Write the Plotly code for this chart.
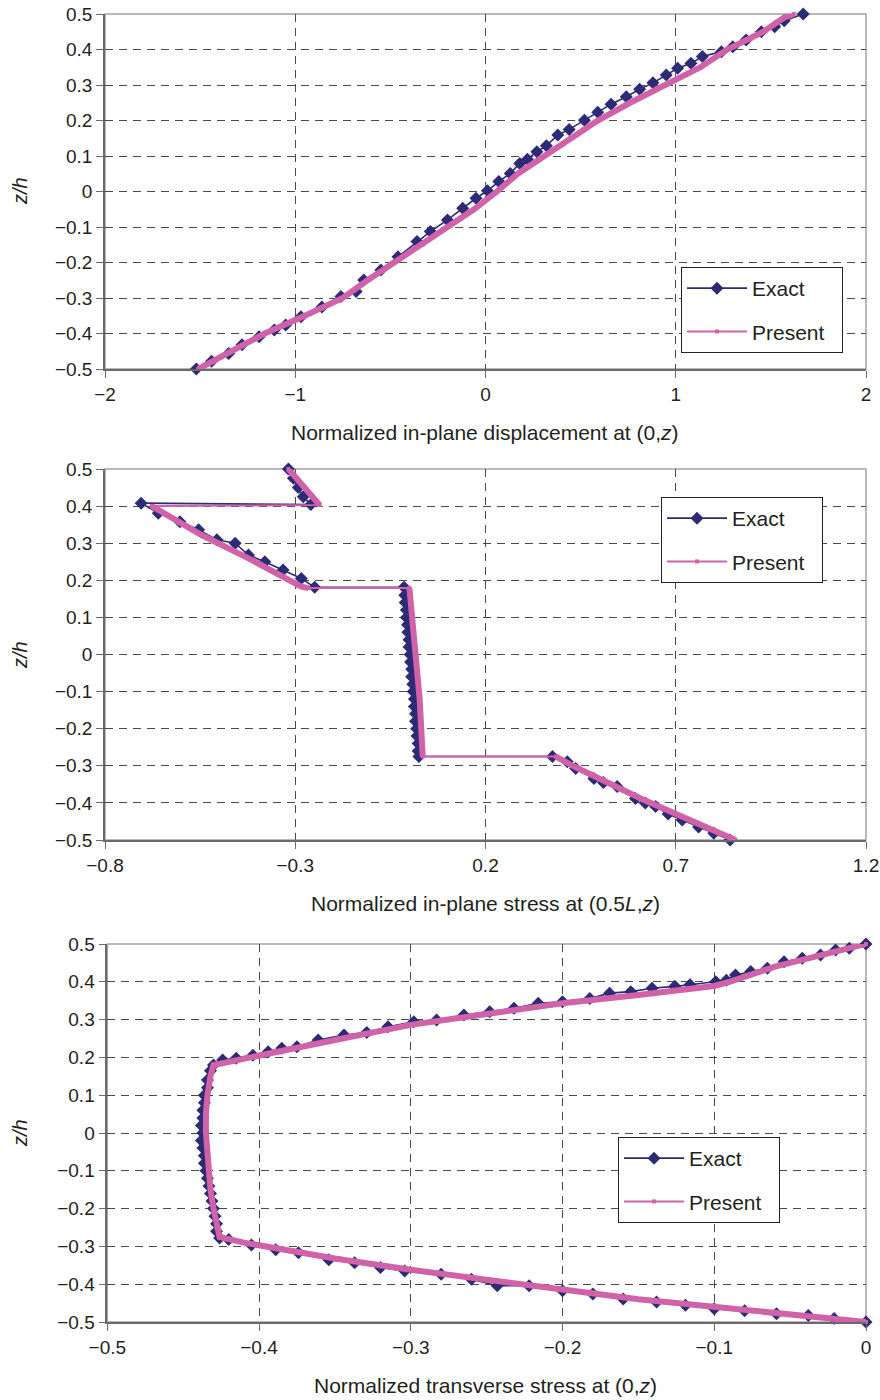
import plotly.graph_objects as go

# ---------------- data ----------------
# Top: normalized in-plane displacement at (0,z)
top_exact_z = [-0.5, -0.478, -0.456, -0.432, -0.409, -0.39, -0.376, -0.353, -0.325, -0.296,
               -0.282, -0.249, -0.221, -0.184, -0.141, -0.113, -0.08, -0.047, -0.019, 0.002,
               0.028, 0.051, 0.079, 0.091, 0.112, 0.129, 0.159, 0.175, 0.201, 0.223,
               0.246, 0.267, 0.288, 0.306, 0.328, 0.347, 0.361, 0.38, 0.394, 0.408,
               0.427, 0.45, 0.464, 0.481, 0.5]
top_exact_u = [-1.52, -1.44, -1.35, -1.28, -1.19, -1.11, -1.05, -0.97, -0.86, -0.76,
               -0.68, -0.64, -0.55, -0.46, -0.36, -0.29, -0.20, -0.12, -0.05, 0.01,
               0.07, 0.13, 0.18, 0.22, 0.27, 0.32, 0.38, 0.44, 0.52, 0.59,
               0.66, 0.74, 0.81, 0.88, 0.95, 1.01, 1.08, 1.14, 1.24, 1.30,
               1.37, 1.45, 1.52, 1.57, 1.67]
top_pres_z = [-0.5, -0.45, -0.4, -0.35, -0.3, -0.25, -0.2, -0.15, -0.1, -0.05, 0.0,
              0.05, 0.1, 0.15, 0.2, 0.25, 0.3, 0.35, 0.4, 0.45, 0.49, 0.5]
top_pres_u = [-1.51, -1.34, -1.16, -0.95, -0.75, -0.62, -0.48, -0.33, -0.20, -0.06, 0.06,
              0.17, 0.31, 0.45, 0.59, 0.76, 0.94, 1.13, 1.27, 1.46, 1.57, 1.62]

# Middle: normalized in-plane stress at (0.5L,z)
mid_exact_s = [-0.318, -0.305, -0.292, -0.279, -0.259,
               -0.705, -0.66, -0.603, -0.554, -0.506, -0.458, -0.423, -0.38, -0.332, -0.284, -0.249,
               -0.014, -0.012, -0.011, -0.008, -0.008, -0.005, -0.004, -0.001, -0.001, 0.002,
               0.003, 0.006, 0.006, 0.009, 0.010, 0.013, 0.013, 0.016, 0.016, 0.019,
               0.020, 0.023, 0.023, 0.025,
               0.376, 0.415, 0.437, 0.485, 0.51, 0.546, 0.594, 0.62, 0.647, 0.68, 0.717, 0.76, 0.8, 0.843]
mid_exact_z = [0.5, 0.475, 0.45, 0.425, 0.404,
               0.408, 0.381, 0.358, 0.336, 0.309, 0.3, 0.268, 0.25, 0.228, 0.205, 0.181,
               0.181, 0.16, 0.14, 0.12, 0.1, 0.08, 0.06, 0.04, 0.02, 0.0,
               -0.02, -0.04, -0.06, -0.08, -0.1, -0.12, -0.14, -0.16, -0.18, -0.2,
               -0.22, -0.24, -0.26, -0.275,
               -0.275, -0.289, -0.307, -0.334, -0.345, -0.356, -0.388, -0.40, -0.41, -0.43, -0.446, -0.465, -0.482, -0.5]
mid_pres_s = [-0.318, -0.236, -0.677, -0.546, -0.415, -0.284, -0.265, 0.000, 0.009, 0.018,
              0.027, 0.035, 0.385, 0.433, 0.608, 0.782, 0.857]
mid_pres_z = [0.5, 0.403, 0.400, 0.322, 0.255, 0.183, 0.179, 0.179, 0.08, -0.02,
              -0.12, -0.275, -0.275, -0.302, -0.388, -0.468, -0.5]

# Bottom: normalized transverse stress at (0,z)
bot_exact_t = [0.0, -0.011, -0.02, -0.03, -0.042, -0.054, -0.065, -0.076, -0.086, -0.092,
               -0.099, -0.116, -0.126, -0.141, -0.155, -0.169, -0.182, -0.2, -0.216, -0.232,
               -0.248, -0.265, -0.283, -0.298, -0.315, -0.329, -0.344, -0.361, -0.375, -0.385,
               -0.394, -0.404, -0.415, -0.424, -0.430, -0.432, -0.434, -0.434, -0.436, -0.436,
               -0.437, -0.437, -0.438, -0.437, -0.438, -0.437, -0.436, -0.436, -0.435, -0.434,
               -0.433, -0.432, -0.431, -0.430, -0.429, -0.428, -0.428, -0.426, -0.42, -0.405,
               -0.389, -0.374, -0.354, -0.337, -0.32, -0.304, -0.28, -0.26, -0.243, -0.222,
               -0.2, -0.18, -0.16, -0.138, -0.119, -0.1, -0.08, -0.059, -0.038, -0.021, 0.0]
bot_exact_z = [0.5, 0.489, 0.484, 0.471, 0.462, 0.453, 0.436, 0.427, 0.418, 0.404,
               0.400, 0.392, 0.388, 0.383, 0.374, 0.370, 0.356, 0.347, 0.343, 0.330,
               0.321, 0.312, 0.299, 0.294, 0.281, 0.266, 0.259, 0.246, 0.228, 0.224,
               0.215, 0.206, 0.198, 0.193, 0.180, 0.165, 0.14, 0.12, 0.10, 0.08,
               0.06, 0.04, 0.02, 0.0, -0.02, -0.04, -0.06, -0.08, -0.10, -0.12,
               -0.14, -0.16, -0.18, -0.20, -0.22, -0.24, -0.26, -0.278, -0.282, -0.296,
               -0.309, -0.317, -0.335, -0.343, -0.356, -0.365, -0.374, -0.387, -0.404, -0.404,
               -0.417, -0.426, -0.439, -0.447, -0.456, -0.465, -0.47, -0.478, -0.483, -0.491, -0.5]
bot_pres_t = [0.0, -0.03, -0.06, -0.09, -0.095, -0.1, -0.15, -0.2, -0.25, -0.3, -0.35, -0.4,
              -0.412, -0.43, -0.432, -0.434, -0.435, -0.435, -0.434, -0.433, -0.432, -0.43,
              -0.428, -0.426, -0.41, -0.38, -0.35, -0.3, -0.25, -0.2, -0.15, -0.1, -0.05, 0.0]
bot_pres_z = [0.5, 0.47, 0.44, 0.40, 0.394, 0.389, 0.365, 0.343, 0.315, 0.286, 0.246, 0.205,
              0.193, 0.18, 0.15, 0.1, 0.05, 0.0, -0.05, -0.1, -0.15, -0.2,
              -0.25, -0.275, -0.29, -0.311, -0.332, -0.362, -0.39, -0.414, -0.44, -0.46, -0.48, -0.5]

z_ticks = [0.5, 0.4, 0.3, 0.2, 0.1, 0.0, -0.1, -0.2, -0.3, -0.4, -0.5]
z_ticktext = ["0.5", "0.4", "0.3", "0.2", "0.1", "0", "\u22120.1", "\u22120.2", "\u22120.3", "\u22120.4", "\u22120.5"]
top_xticks = [-2, -1, 0, 1, 2]
top_xtext = ["\u22122", "\u22121", "0", "1", "2"]
mid_xticks = [-0.8, -0.3, 0.2, 0.7, 1.2]
mid_xtext = ["\u22120.8", "\u22120.3", "0.2", "0.7", "1.2"]
bot_xticks = [-0.5, -0.4, -0.3, -0.2, -0.1, 0.0]
bot_xtext = ["\u22120.5", "\u22120.4", "\u22120.3", "\u22120.2", "\u22120.1", "0"]

series_names = ["Exact", "Present"]
x_titles = ["Normalized in-plane displacement at (0,<i>z</i>)",
            "Normalized in-plane stress at (0.5<i>L</i>,<i>z</i>)",
            "Normalized transverse stress at (0,<i>z</i>)"]

# ---------------- styling ----------------
NAVY = "#2d2a76"
PINK = "#d062a9"
TXT = "#231f20"
FONT = "Liberation Sans, Arial, sans-serif"
PAD = "\u00a0\u00a0"  # right padding inside the legend box


def thick_path(xs, zs):
    """Split the Present path at its thin horizontal interface connectors."""
    ox, oz = [xs[0]], [zs[0]]
    for i in range(1, len(xs)):
        if abs(zs[i] - zs[i - 1]) < 0.006 and abs(xs[i] - xs[i - 1]) > 0.05:
            ox.append(None)
            oz.append(None)
        ox.append(xs[i])
        oz.append(zs[i])
    return ox, oz


fig = go.Figure()

panels = [
    (top_exact_u, top_exact_z, top_pres_u, top_pres_z, "x", "y", "legend"),
    (mid_exact_s, mid_exact_z, mid_pres_s, mid_pres_z, "x2", "y2", "legend2"),
    (bot_exact_t, bot_exact_z, bot_pres_t, bot_pres_z, "x3", "y3", "legend3"),
]

for ex, ez, px, pz, xa, ya, lg in panels:
    fig.add_trace(go.Scatter(
        x=ex, y=ez, xaxis=xa, yaxis=ya, mode="lines+markers", name=series_names[0] + PAD,
        line=dict(color=NAVY, width=1.6),
        marker=dict(symbol="diamond", size=10, color=NAVY),
        cliponaxis=False, legend=lg, legendgroup="exact" + xa))
    fig.add_trace(go.Scatter(
        x=px, y=pz, xaxis=xa, yaxis=ya, mode="lines+markers", name=series_names[1] + PAD,
        line=dict(color=PINK, width=2),
        marker=dict(symbol="square", size=4, color=PINK),
        cliponaxis=False, legend=lg, legendgroup="present" + xa))
    tx, tz = thick_path(px, pz)
    fig.add_trace(go.Scatter(
        x=tx, y=tz, xaxis=xa, yaxis=ya, mode="lines", name=series_names[1],
        line=dict(color=PINK, width=6), showlegend=False, connectgaps=False,
        cliponaxis=False, legend=lg, legendgroup="present" + xa, hoverinfo="skip"))

# geometry (pixels): plot area x 105..866 ; margins
L, R, T, B = 105, 14, 14, 78
H = 1400
ph = H - T - B  # 1308


def ydom(top_px, bot_px):
    return [(H - B - bot_px) / ph, (H - B - top_px) / ph]


doms = [ydom(14, 369), ydom(469, 840), ydom(944, 1322)]
xdoms = [[0, 1], [0, 1], [0.003, 1]]
xranges = [[-2, 2], [-0.8, 1.2], [-0.5, 0]]
xtv = [(top_xticks, top_xtext), (mid_xticks, mid_xtext), (bot_xticks, bot_xtext)]

axis_common = dict(
    showgrid=True, gridcolor="#4a4a4a", gridwidth=1, griddash="8px,6px",
    zeroline=False, showline=True, linecolor="#6a6a6a", linewidth=1.5,
    ticks="outside", ticklen=7, tickcolor="#6a6a6a", tickwidth=1.2,
    tickfont=dict(size=19, color=TXT, family=FONT), automargin=False,
)

layout = dict(
    width=880, height=1400,
    margin=dict(l=L, r=R, t=T, b=B, autoexpand=False),
    paper_bgcolor="white", plot_bgcolor="white",
    font=dict(family=FONT, color=TXT),
    shapes=[], annotations=[],
)

legend_pos = [(681, 267), (661, 497), (618, 1137)]
title_py = [432, 903, 1385]
ytitle_py = [191, 655, 1133]
pw = 880 - L - R

for i in range(3):
    sx = "" if i == 0 else str(i + 1)
    layout["xaxis" + sx] = dict(
        axis_common, domain=xdoms[i], range=xranges[i], anchor="y" + sx,
        tickvals=xtv[i][0], ticktext=xtv[i][1])
    layout["yaxis" + sx] = dict(
        axis_common, domain=doms[i], range=[-0.5, 0.5], anchor="x" + sx,
        tickvals=z_ticks, ticktext=z_ticktext)
    # light frame around plot area
    layout["shapes"].append(dict(
        type="rect", xref="x" + sx + " domain", yref="y" + sx + " domain",
        x0=0, x1=1, y0=0, y1=1, line=dict(color="#a3a3a3", width=1.5), layer="below"))
    lx, ly = legend_pos[i]
    layout["legend" + sx] = dict(
        x=(lx - L) / pw, y=(H - B - ly) / ph, xanchor="left", yanchor="top",
        bgcolor="white", bordercolor="#222222", borderwidth=1,
        font=dict(size=21, color=TXT, family=FONT),
        itemwidth=60, tracegroupgap=13, traceorder="grouped")
    layout["annotations"].append(dict(
        text=x_titles[i], xref="paper", yref="paper",
        x=(485 - L) / pw, y=(H - B - title_py[i]) / ph,
        xanchor="center", yanchor="middle", showarrow=False,
        font=dict(size=21, color=TXT, family=FONT)))
    layout["annotations"].append(dict(
        text="<i>z/h</i>", xref="paper", yref="paper",
        x=(20 - L) / pw, y=(H - B - ytitle_py[i]) / ph, textangle=-90,
        xanchor="center", yanchor="middle", showarrow=False,
        font=dict(size=20, color=TXT, family=FONT)))

fig.update_layout(**layout)
fig.write_html("out.html")
